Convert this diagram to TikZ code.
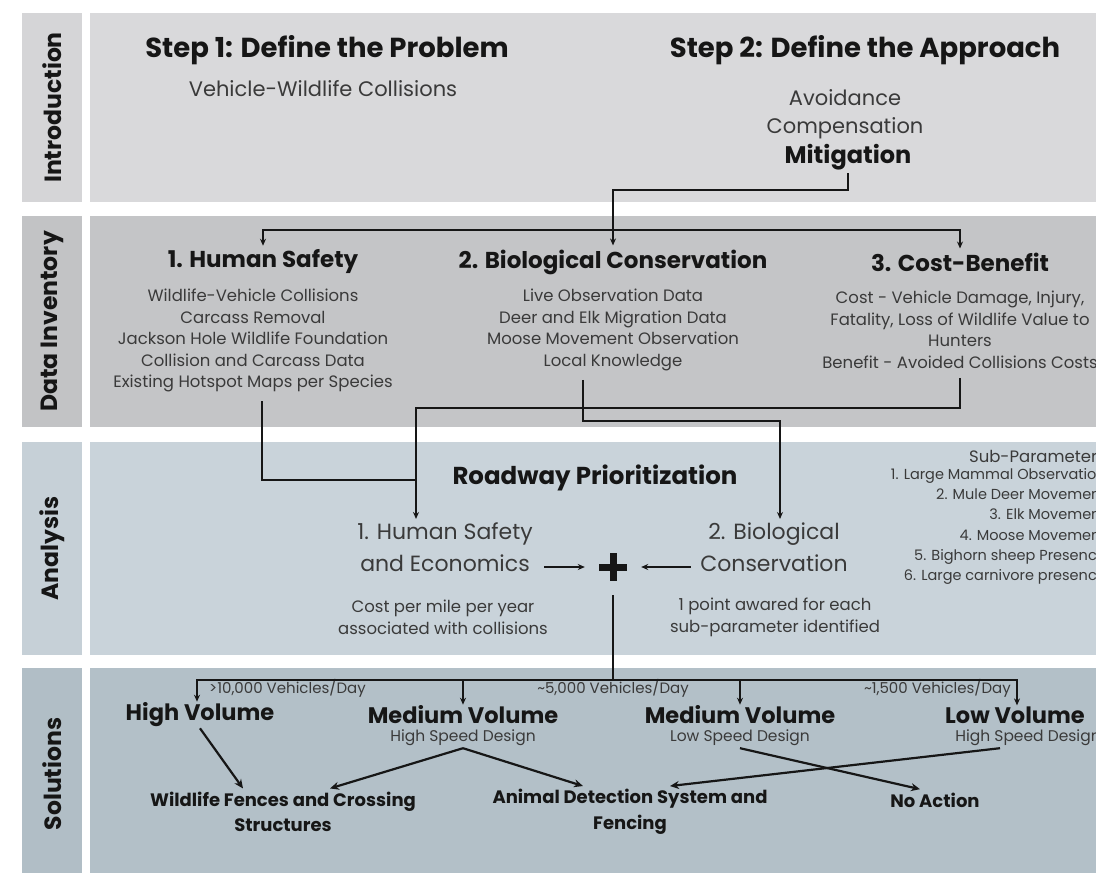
\documentclass[tikz,border=0pt]{standalone}
\usepackage{fontspec}
\setmainfont{Poppins}
\usetikzlibrary{arrows.meta,positioning,calc}
\definecolor{ink}{HTML}{161616}
\definecolor{textgray}{HTML}{3A3A3A}
\definecolor{introfill}{HTML}{D9D9DB}
\definecolor{introtab}{HTML}{D5D5D7}
\definecolor{datafill}{HTML}{C4C5C7}
\definecolor{datatab}{HTML}{C2C3C5}
\definecolor{analysisfill}{HTML}{C9D3DA}
\definecolor{analysistab}{HTML}{C6D0D7}
\definecolor{solutionfill}{HTML}{B3C0C8}
\definecolor{solutiontab}{HTML}{B1BEC6}
\newcommand{\fsz}[2]{\fontsize{#1}{#2}\selectfont}

\begin{document}
\begin{tikzpicture}[x=1pt,y=-1pt,
  conn/.style={line width=1.8pt,draw=ink},
  arr/.style={conn,-{Stealth[length=7pt,width=6pt]}},
  bigarr/.style={line width=2.2pt,draw=ink,-{Stealth[length=9pt,width=8pt]}},
  tablabel/.style={rotate=90,font=\bfseries\fsz{23.5}{27},text=ink},
  title/.style={font=\bfseries\fsz{27.5}{32},text=ink},
  sub/.style={font=\fsz{21}{30},text=textgray,align=center},
  head/.style={font=\bfseries\fsz{23}{27},text=ink,inner ysep=4pt},
  body/.style={font=\fsz{16.5}{21.5},text=textgray,align=center,inner sep=9pt},
  anabig/.style={font=\fsz{22}{32},text=textgray,align=center},
  anasmall/.style={font=\fsz{16.5}{22},text=textgray,align=center},
  tinylabel/.style={font=\fsz{15}{16},text=textgray,inner sep=1pt},
  vol/.style={font=\bfseries\fsz{22.5}{26},text=ink,inner ysep=1pt},
  volsub/.style={font=\fsz{15.5}{18},text=textgray,inner ysep=2pt},
  outcome/.style={font=\bfseries\fsz{18}{25.5},text=ink,align=center}]
  \useasboundingbox (0,0) rectangle (1096,873);

  \foreach \top/\bot/\fillc/\tabc/\name [count=\i] in
    {13/202/introfill/introtab/Introduction,
     216/427/datafill/datatab/Data Inventory,
     442/655/analysisfill/analysistab/Analysis,
     668/880/solutionfill/solutiontab/Solutions}{
    \fill[\tabc] (22,\top) rectangle (82,\bot);
    \fill[\fillc] (90,\top) rectangle (1100,\bot);
    \node[tablabel] (tab\i) at (52,{(\top+\bot)/2}) {\name};
  }

  \node[title] (stepone) at (327,50) {Step 1: Define the Problem};
  \node[sub] (problem) at (323,89) {Vehicle-Wildlife Collisions};
  \node[title] (steptwo) at (865,50) {Step 2: Define the Approach};
  \node[sub] (avoid) at (845,98) {Avoidance};
  \node[sub] (comp) at (845,128) {Compensation};
  \node[font=\bfseries\fsz{24}{28},text=ink] (mitig) at (848,157) {Mitigation};

  \node[head] (humHead) at (263,262) {1. Human Safety};
  \node[head] (bioHead) at (613,262) {2. Biological Conservation};
  \node[head] (costHead) at (960,262) {3. Cost-Benefit};
  \node[body] (humList) at (253,340.5) {Wildlife-Vehicle Collisions\\Carcass Removal\\
    Jackson Hole Wildlife Foundation\\Collision and Carcass Data\\
    Existing Hotspot Maps per Species};
  \node[body] (bioList) at (613,330) {Live Observation Data\\Deer and Elk Migration Data\\
    Moose Movement Observation\\Local Knowledge};
  \node[body] (costList) at (960,330) {Cost - Vehicle Damage, Injury,\\
    Fatality, Loss of Wildlife Value to\\Hunters\\Benefit - Avoided Collisions Costs};

  \coordinate (mitbend) at (613,190);
  \coordinate (split) at (613,230);
  \draw[arr] (mitig.south) |- (mitbend) -- (bioHead.north);
  \draw[arr] (split) -| (humHead.north);
  \draw[arr] (split) -| (costHead.north);

  \node[font=\bfseries\fsz{24.5}{28},text=ink] (roadway) at (595,478) {Roadway Prioritization};
  \node[anabig] (hse) at (445,547) {1. Human Safety\\and Economics};
  \node[anasmall] (hseCost) at (443,617) {Cost per mile per year\\associated with collisions};
  \node[anabig] (bioAna) at (774,547) {2. Biological\\Conservation};
  \node[anasmall] (bioPts) at (775,617) {1 point awared for each\\sub-parameter identified};
  \node[minimum size=56pt,inner sep=0pt] (plus) at (613,567) {};
  \fill[ink] ([xshift=-3.5pt,yshift=-14pt]plus.center) rectangle ([xshift=3.5pt,yshift=14pt]plus.center);
  \fill[ink] ([xshift=-14pt,yshift=-3.5pt]plus.center) rectangle ([xshift=14pt,yshift=3.5pt]plus.center);
  \node[font=\fsz{16.5}{18},text=textgray,anchor=east,inner sep=0pt] (subHead) at (1106,456) {Sub-Parameters};
  \node[font=\fsz{14.5}{20.3},text=textgray,align=right,anchor=north east,inner sep=0pt]
    (subList) at (1106,468) {1. Large Mammal Observation\\2. Mule Deer Movement\\
    3. Elk Movement\\4. Moose Movement\\5. Bighorn sheep Presence\\
    6. Large carnivore presence};

  \coordinate (hsejoin) at (416,480);
  \coordinate (costbend) at (416,408);
  \coordinate (biobend) at (780,421);
  \draw[conn] ([xshift=9pt]humList.south) |- (hsejoin);
  \draw[arr] (costList.south) |- (costbend) -- (costbend |- hse.north);
  \draw[arr] ([xshift=-30pt]bioList.south) |- (biobend) -- (biobend |- bioAna.north);
  \draw[arr] ([xshift=8pt]hse.east |- plus.west) -- (plus.west);
  \draw[arr] ([xshift=-6pt]bioAna.west |- plus.east) -- (plus.east);

  \node[vol] (highVol) at (200,715) {High Volume};
  \node[vol] (medHigh) at (463,715) {Medium Volume};
  \node[volsub] (medHighSub) at (463,738) {High Speed Design};
  \node[vol] (medLow) at (740,715) {Medium Volume};
  \node[volsub] (medLowSub) at (740,738) {Low Speed Design};
  \node[vol] (lowVol) at (1015,715) {Low Volume};
  \node[volsub] (lowSub) at (1028,738) {High Speed Design};
  \node[tinylabel,anchor=west] (lblHigh) at (208,688) {>10,000 Vehicles/Day};
  \node[tinylabel] (lblMed) at (613,688) {\textasciitilde5,000 Vehicles/Day};
  \node[tinylabel,anchor=east] (lblLow) at (1012,688) {\textasciitilde1,500 Vehicles/Day};

  \coordinate (fork) at (613,680);
  \draw[conn] (plus.south) -- (fork);
  \draw[arr] (fork) -| ([xshift=-3pt]highVol.north);
  \draw[arr] (fork) -| (medHigh.north);
  \draw[arr] (fork) -| (medLow.north);
  \draw[arr] (fork) -| ([xshift=2pt]lowVol.north);

  \node[outcome] (fences) at (283,812) {Wildlife Fences and Crossing\\Structures};
  \node[outcome] (detect) at (630,812) {Animal Detection System and\\Fencing};
  \node[outcome] (noAction) at (935,800) {No Action};

  \draw[bigarr] (highVol.south) -- ([xshift=-40pt]fences.north);
  \draw[bigarr] (medHighSub.south) -- ([xshift=47pt]fences.north);
  \draw[bigarr] (medHighSub.south) -- ([xshift=-47pt]detect.north);
  \draw[bigarr] (medLowSub.south) -- ([xshift=-15pt]noAction.north);
  \draw[bigarr] ([xshift=-28pt]lowSub.south) -- ([xshift=40pt]detect.north);
\end{tikzpicture}
\end{document}
